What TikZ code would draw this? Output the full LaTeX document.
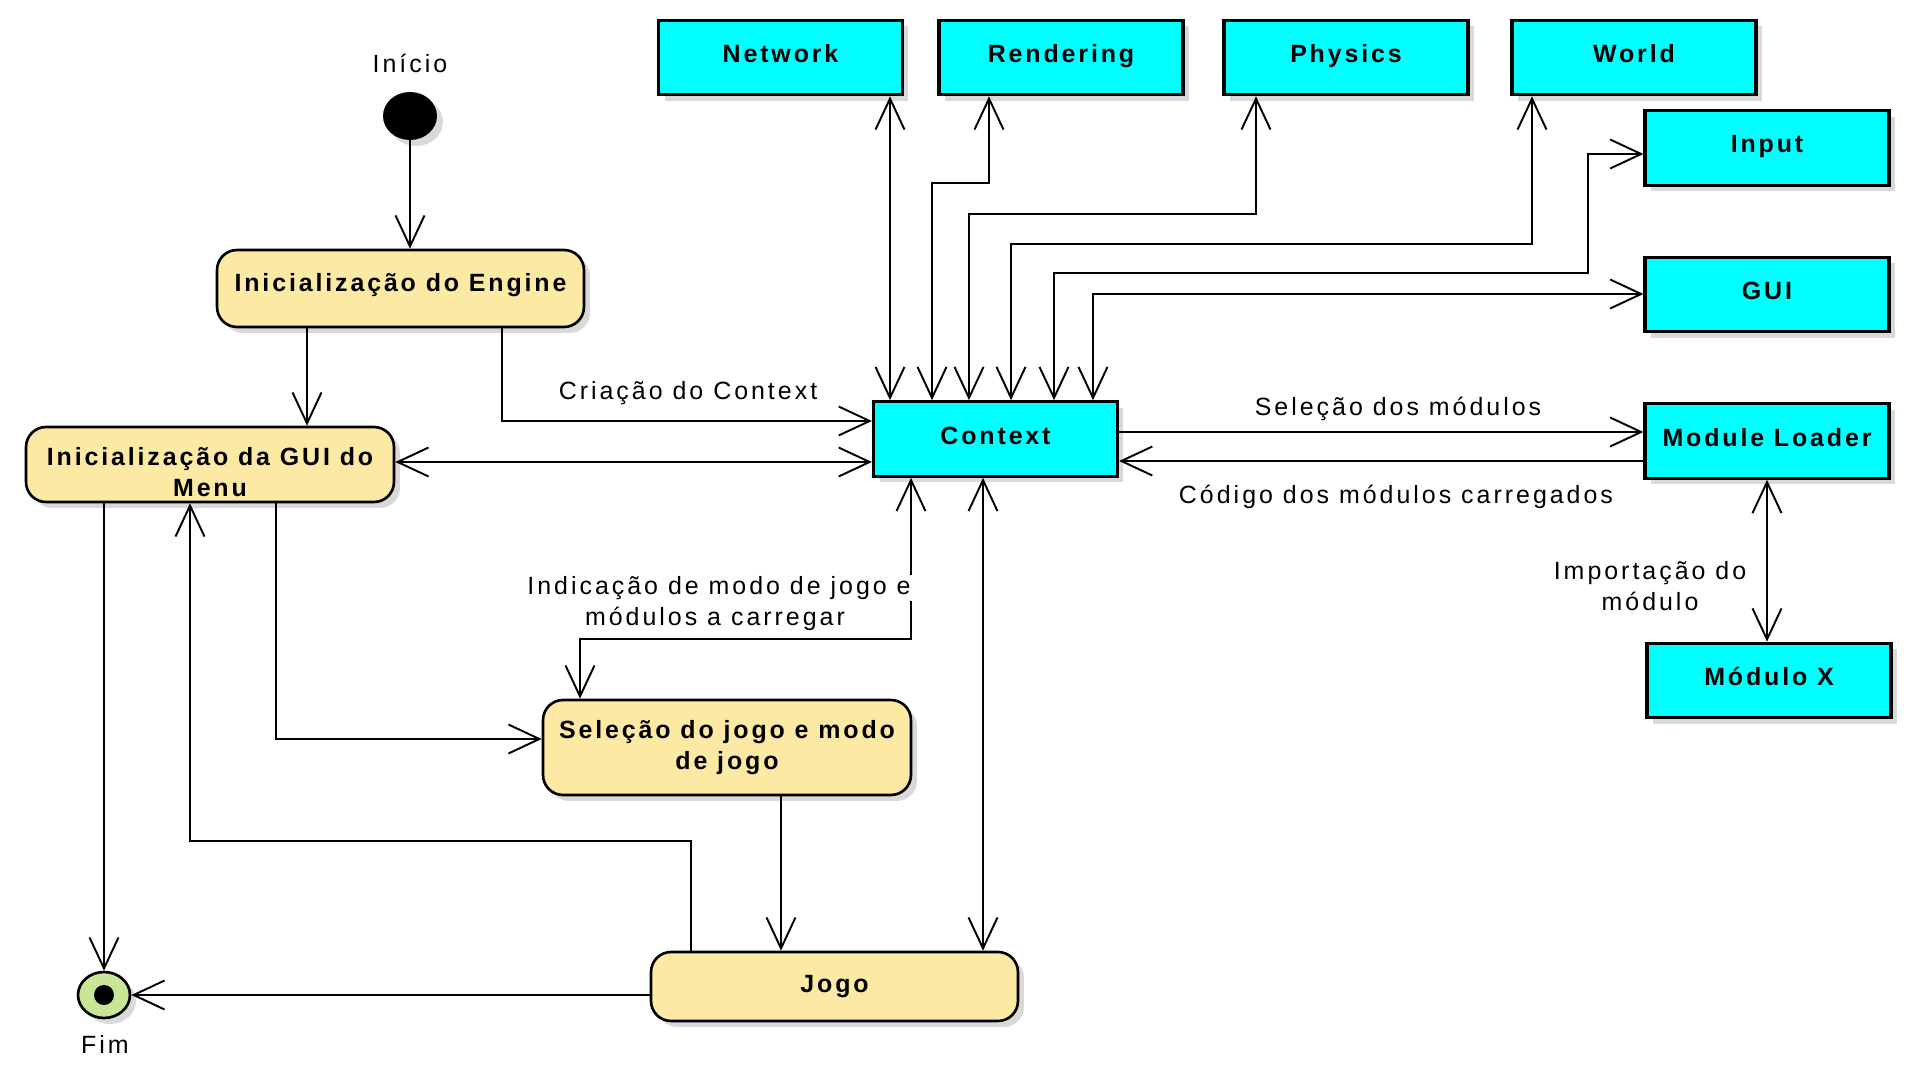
\documentclass[tikz,border=0pt]{standalone}
\usepackage{fontspec}
\setmainfont{Liberation Sans}[LetterSpace=12,BoldFeatures={LetterSpace=11.5}]
\usetikzlibrary{arrows.meta,shadows,shapes.geometric}
\definecolor{cyanbox}{RGB}{0,255,255}
\definecolor{yel}{RGB}{252,234,164}
\definecolor{fimg}{RGB}{200,230,150}
\begin{document}
\begin{tikzpicture}[x=0.02cm,y=-0.02cm,
 >={Straight Barb[length=0.62cm,width=0.58cm]},
 conn/.style={line width=1.1pt,black},
 shad/.style={drop shadow={shadow xshift=0.12cm,shadow yshift=-0.12cm,fill=black!15,opacity=1}},
 box/.style={draw,line width=1.8pt,fill=cyanbox,minimum width=4.88cm,minimum height=1.49cm,inner sep=0pt,text height=0.36cm,text depth=0.16cm,font=\bfseries\fontsize{14.2}{17.5}\selectfont,shad},
 act/.style={draw,line width=1.5pt,fill=yel,rounded corners=0.4cm,inner sep=0pt,align=center,font=\bfseries\fontsize{14.2}{17.5}\selectfont,shad},
 lab/.style={font=\fontsize{14.2}{17.5}\selectfont,align=center,inner sep=1pt}
]
\useasboundingbox (0,0) rectangle (1924,1078);
\fill[white] (0,0) rectangle (1924,1078);

% cyan boxes
\node[box] (net) at (780.5,57.5) {Network};
\node[box] (ren) at (1061,57.5) {Rendering};
\node[box] (phy) at (1346,57.5) {Physics};
\node[box] (wor) at (1634,57.5) {World};
\node[box] (inp) at (1767,148) {Input};
\node[box] (guim) at (1767,294.5) {GUI};
\node[box] (ml) at (1767,441) {Module Loader};
\node[box] (mx) at (1769,680.5) {Módulo X};
\node[box] (ctx) at (995.5,439) {Context};

% activity boxes
\node[act,minimum width=7.34cm,minimum height=1.54cm,text height=0.36cm,text depth=0.26cm] (eng) at (400.5,288.5) {Inicialização do Engine};
\node[act,minimum width=7.36cm,minimum height=1.5cm,text height=1.27cm,text depth=0cm] (gui) at (210,464.5) {Inicialização da GUI do\\Menu};
\node[act,minimum width=7.36cm,minimum height=1.9cm] (sel) at (727,747.5) {Seleção do jogo e modo\\de jogo};
\node[act,minimum width=7.34cm,minimum height=1.38cm] (jogo) at (834.5,986.5) {Jogo};

% start / end
\node[ellipse,fill=black,minimum width=1.08cm,minimum height=0.96cm,inner sep=0pt,shad] (start) at (410,116) {};
\node[lab] (ini) at (410,63) {Início};
\node[ellipse,draw,line width=1.5pt,fill=fimg,minimum width=1.04cm,minimum height=0.92cm,inner sep=0pt,shad] (fim) at (104,995) {};
\fill (fim.center) circle (0.2cm);
\node[lab] (fimt) at (105,1044) {Fim};

% helper coordinates
\coordinate (p3) at (502,421);
\coordinate (p4) at (0,462);
\coordinate (p5) at (890,0);
\coordinate (r1) at (932,183); \coordinate (r2) at (989,183);
\coordinate (h1) at (969,214); \coordinate (h2) at (1256,214);
\coordinate (o1) at (1011,244); \coordinate (o2) at (1532,244);
\coordinate (i1) at (1054,273); \coordinate (i2) at (1588,273); \coordinate (i3) at (1588,154);
\coordinate (g1) at (1093,294);
\coordinate (q1) at (0,432); \coordinate (q2) at (0,461);
\coordinate (s1) at (276,739);
\coordinate (t1) at (911,639); \coordinate (t2) at (580,639);
\coordinate (u1) at (781,0);
\coordinate (v1) at (983,0);
\coordinate (w1) at (691,841); \coordinate (w2) at (190,841);
\coordinate (e1) at (307,0);

% connectors
\draw[conn,->] (start.south) -- (start.south |- eng.north);
\draw[conn,->] (eng.south -| e1) -- (gui.north -| e1);
\draw[conn,->] (eng.south -| p3) |- (ctx.west |- p3);
\draw[conn,<->] (gui.east |- p4) -- (ctx.west |- p4);
\draw[conn,<->] (ctx.north -| p5) -- (net.south -| p5);
\draw[conn,<->] (ctx.north -| r1) -- (r1) -- (r2) -- (ren.south -| r2);
\draw[conn,<->] (ctx.north -| h1) -- (h1) -- (h2) -- (phy.south -| h2);
\draw[conn,<->] (ctx.north -| o1) -- (o1) -- (o2) -- (wor.south -| o2);
\draw[conn,<->] (ctx.north -| i1) -- (i1) -- (i2) -- (i3) -- (inp.west |- i3);
\draw[conn,<->] (ctx.north -| g1) -- (g1) -- (guim.west |- g1);
\draw[conn,->] (ctx.east |- q1) -- (ml.west |- q1);
\draw[conn,<-] (ctx.east |- q2) -- (ml.west |- q2);
\draw[conn,<->] (ml.south) -- (ml.south |- mx.north);
\draw[conn,->] (gui.south -| s1) |- (sel.west |- s1);
\draw[conn,<->] (ctx.south -| t1) -- (t1) -- (t2) -- (sel.north -| t2);
\draw[conn,->] (sel.south -| u1) -- (jogo.north -| u1);
\draw[conn,<->] (ctx.south -| v1) -- (jogo.north -| v1);
\draw[conn,->] (jogo.north -| w1) -- (w1) -- (w2) -- (gui.south -| w2);
\draw[conn,->] (gui.south -| fim) -- (fim.north);
\draw[conn,->] (jogo.west |- fim) -- (fim.east);

% labels
\node[lab] (lcria) at (688,393) {Criação do Context};
\node[lab] (lsel) at (1398,409) {Seleção dos módulos};
\node[lab] (lcod) at (1396,497) {Código dos módulos carregados};
\node[lab,fill=white] (lind1) at (719,588) {Indicação de modo de jogo e};
\node[lab] (lind2) at (715,619) {módulos a carregar};
\node[lab] (limp) at (1650,586) {Importação do\\módulo};
\end{tikzpicture}
\end{document}
